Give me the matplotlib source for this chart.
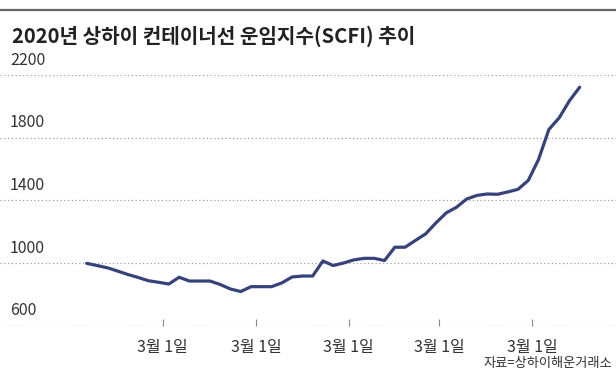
import matplotlib
matplotlib.use("Agg")
import matplotlib.pyplot as plt
import matplotlib.transforms as mtransforms
import numpy as np

plt.rcParams['font.family'] = ['Noto Sans CJK KR', 'DejaVu Sans']

title = "2020년 상하이 컨테이너선 운임지수(SCFI) 추이"
source = "자료=상하이해운거래소"

scfi = [997, 983, 969, 948, 926, 907, 886, 876, 865, 908,
        884, 884, 884, 862, 833, 817, 848, 848, 848, 872,
        910, 916, 916, 1012, 983, 999, 1019, 1029, 1029, 1015,
        1100, 1100, 1143, 1185, 1255, 1319, 1355, 1408, 1431, 1440,
        1438, 1453, 1470, 1527, 1661, 1852, 1926, 2035, 2122]

y_ticks = [600, 1000, 1400, 1800, 2200]
x_tick_pos = [7.4, 16.5, 25.5, 34.3, 43.4]
x_tick_labels = ["3월 1일"] * 5

W, H = 616, 375
fig = plt.figure(figsize=(W / 100, H / 100), dpi=100)
fig.patch.set_facecolor('white')

# axes: 600 at y=325.5px, 2200 at y=75px
ax = fig.add_axes([0, (H - 325.5) / H, 1, 250.5 / H])
x0_px, step_px = 86.7, 10.27
ax.set_xlim(-x0_px / step_px, (W - x0_px) / step_px)
ax.set_ylim(600, 2200)

for v in y_ticks:
    ax.axhline(v, color='#a0a0a0', lw=0.9, ls=(0, (1, 2)), zorder=1)
    ax.text(10 / W, v, str(v), transform=mtransforms.blended_transform_factory(ax.transAxes, ax.transData) +
            mtransforms.ScaledTranslation(0, 4.5 / 72, fig.dpi_scale_trans),
            ha='left', va='bottom', fontsize=11.5, color='#333333')

x = np.arange(len(scfi))
ax.plot(x, scfi, color='#37427a', lw=2.3, solid_joinstyle='round', solid_capstyle='round', zorder=3)

for s in ax.spines.values():
    s.set_visible(False)
ax.set_yticks([])
ax.set_xticks(x_tick_pos)
ax.set_xticklabels(x_tick_labels, fontsize=11.5, color='#333333')
ax.tick_params(axis='x', direction='in', length=5, width=0.8, color='#888888', pad=10)

# top rule
fig.add_artist(plt.Line2D([0, 1], [1 - 10 / H, 1 - 10 / H], color='#666666', lw=1.6, transform=fig.transFigure))

fig.text(12 / W, 1 - 36 / H, title, ha='left', va='center', fontsize=14.5, fontweight='bold', color='#222222')
fig.text(612 / W, 1 - 364 / H, source, ha='right', va='center', fontsize=9.5, color='#333333')

fig.savefig('out.png', dpi=100, facecolor='white')
